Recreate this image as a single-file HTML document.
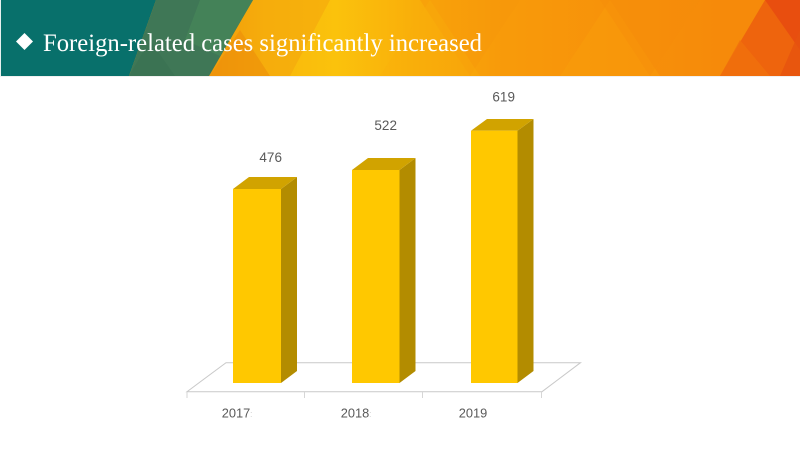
<!DOCTYPE html>
<html>
<head>
<meta charset="utf-8">
<style>
  html,body{margin:0;padding:0;background:#fff;}
  body{width:800px;height:450px;overflow:hidden;}
  svg{display:block;}
</style>
</head>
<body>
<svg width="800" height="450" viewBox="0 0 800 450" xmlns="http://www.w3.org/2000/svg">
  <defs>
    <linearGradient id="hdr" x1="0" y1="0" x2="800" y2="0" gradientUnits="userSpaceOnUse">
      <stop offset="0.26" stop-color="#EF950A"/>
      <stop offset="0.33" stop-color="#F8B80C"/>
      <stop offset="0.42" stop-color="#FBC20C"/>
      <stop offset="0.52" stop-color="#F9AE0A"/>
      <stop offset="0.62" stop-color="#F89B0A"/>
      <stop offset="0.78" stop-color="#F7910A"/>
      <stop offset="0.90" stop-color="#F68A0A"/>
    </linearGradient>
  </defs>

  <!-- Header band -->
  <rect x="0" y="0" width="800" height="76" fill="url(#hdr)"/>
  <!-- subtle triangle facets on the orange part -->
  <polygon points="250,0 330,0 290,76 210,76" fill="#F4A20B" opacity="0.5"/>
  <polygon points="420,0 520,0 470,76" fill="#F7960A" opacity="0.45"/>
  <polygon points="560,76 610,0 660,76" fill="#F9A00B" opacity="0.4"/>
  <polygon points="600,0 700,0 650,76" fill="#F68C0A" opacity="0.4"/>
  <polygon points="380,76 430,0 480,76" fill="#FAB00B" opacity="0.35"/>
  <polygon points="210,76 240,30 270,76" fill="#EC8E0A" opacity="0.6"/>
  <!-- red-orange right zone -->
  <polygon points="765,0 800,0 800,76 720,76" fill="#EE640D"/>
  <polygon points="765,0 800,0 800,50" fill="#E84E0F"/>
  <polygon points="740,40 770,76 720,76" fill="#F0700C" opacity="0.8"/>
  <polygon points="800,30 800,76 780,76" fill="#E6520F" opacity="0.8"/>
  <!-- teal & green zone -->
  <polygon points="0,0 156,0 129,76 0,76" fill="#08706B"/>
  <polygon points="156,0 253,0 209,76 129,76" fill="#3F7756"/>
  <polygon points="200,0 253,0 220,56 185,40" fill="#468559" opacity="0.8"/>
  <polygon points="129,76 150,40 175,76" fill="#3A7253" opacity="0.7"/>
  <!-- thin light left edge -->
  <rect x="0" y="0" width="1" height="76" fill="#E8F0EF"/>
  <!-- faint line under header -->
  <rect x="0" y="76" width="800" height="1" fill="#F0F0F0"/>

  <!-- Title -->
  <polygon points="24.5,33 33,41.5 24.5,50 16,41.5" fill="#FFFFFF"/>
  <text x="43" y="51" font-family="'Liberation Serif', serif" font-size="25" fill="#FFFFFF" textLength="439" lengthAdjust="spacingAndGlyphs">Foreign-related cases significantly increased</text>

  <!-- Floor -->
  <polygon points="187,391.7 542,391.7 580.5,362.7 226,362.7" fill="none" stroke="#C9C9C9" stroke-width="1"/>
  <!-- ticks -->
  <g stroke="#D6D6D6" stroke-width="1">
    <line x1="187" y1="392" x2="187" y2="398"/>
    <line x1="304.5" y1="392" x2="304.5" y2="398"/>
    <line x1="422.5" y1="392" x2="422.5" y2="398"/>
    <line x1="541.5" y1="392" x2="541.5" y2="398"/>
  </g>

  <!-- Bar 1 -->
  <polygon points="281,189 297,177 297,371 281,383" fill="#B38C00"/>
  <polygon points="233,189 249,177 297,177 281,189" fill="#D1A300"/>
  <rect x="233" y="189" width="48" height="194" fill="#FFC800"/>
  <!-- Bar 2 -->
  <polygon points="399.5,170 415.5,158 415.5,371 399.5,383" fill="#B38C00"/>
  <polygon points="352,170 368,158 415.5,158 399.5,170" fill="#D1A300"/>
  <rect x="352" y="170" width="47.5" height="213" fill="#FFC800"/>
  <!-- Bar 3 -->
  <polygon points="517.5,130.7 533.5,119 533.5,371 517.5,383" fill="#B38C00"/>
  <polygon points="471,130.7 487,119 533.5,119 517.5,130.7" fill="#D1A300"/>
  <rect x="471" y="130.7" width="46.5" height="252.3" fill="#FFC800"/>

  <!-- Value labels -->
  <g font-family="'Liberation Sans', sans-serif" font-size="13.5" fill="#595959" text-anchor="middle">
    <text x="270.7" y="162">476</text>
    <text x="385.7" y="130">522</text>
    <text x="503.7" y="101.5">619</text>
  </g>

  <!-- Category labels -->
  <g font-family="'Liberation Sans', sans-serif" font-size="12.8" fill="#595959" text-anchor="middle">
    <text x="236" y="417.5">2017</text>
    <text x="355" y="417.5">2018</text>
    <text x="473" y="417.5">2019</text>
  </g>
  <g font-family="'Liberation Sans', sans-serif" font-size="9" fill="#D0D0D0">
    <text x="250" y="417">:</text>
    <text x="369" y="417">:</text>
  </g>
</svg>
</body>
</html>
